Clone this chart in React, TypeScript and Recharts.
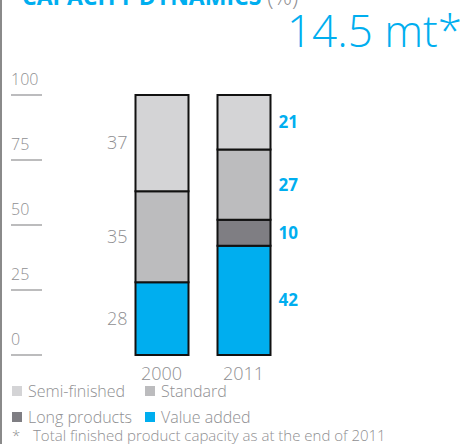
import React from 'react';
import { BarChart, Bar, XAxis, YAxis, LabelList } from 'recharts';

const years = ['2000', '2011'];
const valueAdded = [28, 42];
const longProducts = [0, 10];
const standard = [35, 27];
const semiFinished = [37, 21];
const yTicks = [0, 25, 50, 75, 100];

const legendItems = [
  { name: 'Semi-finished', color: '#d4d4d6' },
  { name: 'Standard', color: '#bcbcbe' },
  { name: 'Long products', color: '#7f7e83' },
  { name: 'Value added', color: '#00aeef' },
];

const data = years.map((y, i) => ({
  year: y,
  valueAdded: valueAdded[i],
  longProducts: longProducts[i],
  standard: standard[i],
  semiFinished: semiFinished[i],
}));

const GRAY = '#8f8f92';
const BLUE = '#00aeef';
const FONT = '"Open Sans", "Noto Sans", sans-serif';

const YTick = (props: any) => {
  const { y, payload } = props;
  return (
    <g>
      <text x={11} y={y - 10} fill={GRAY} fontSize={16} fontFamily={FONT} fontWeight={300} textAnchor="start">
        {payload.value}
      </text>
      <line x1={11} x2={42} y1={y} y2={y} stroke={GRAY} strokeWidth={1.2} />
    </g>
  );
};

const XTick = (props: any) => {
  const { x, y, payload } = props;
  return (
    <text x={x} y={y + 17} fill={GRAY} fontSize={18} fontFamily={FONT} fontWeight={300} textAnchor="middle">
      {payload.value}
    </text>
  );
};

const makeLabel = (values: number[]) => (props: any) => {
  const vb = props.viewBox || {};
  const x = props.x ?? vb.x;
  const y = props.y ?? vb.y;
  const width = props.width ?? vb.width;
  const height = props.height ?? vb.height;
  const { value } = props;
  if (!value) return null;
  const cy = y + height / 2;
  const isFirst = props.index === 0 && values[0] === value;
  if (isFirst) {
    return (
      <text x={x - 8} y={cy} dy="0.35em" fill={GRAY} fontSize={18} fontFamily={FONT} fontWeight={300} textAnchor="end">
        {value}
      </text>
    );
  }
  return (
    <text x={x + width + 8} y={cy} dy="0.35em" fill={BLUE} fontSize={17} fontFamily={FONT} fontWeight={700} textAnchor="start">
      {value}
    </text>
  );
};

export default function App() {
  return (
    <div style={{ position: 'absolute', left: 0, top: 0, width: 464, height: 444, background: '#fff', overflow: 'hidden' }}>
      <BarChart
        width={464}
        height={444}
        data={data}
        margin={{ top: 95, right: 179.5, bottom: 59, left: 0 }}
        barSize={53}
      >
        <YAxis
          type="number"
          domain={[0, 100]}
          ticks={yTicks}
          width={120.5}
          axisLine={false}
          tickLine={false}
          tick={<YTick />}
          interval={0}
        />
        <XAxis dataKey="year" height={30} axisLine={false} tickLine={false} tick={<XTick />} interval={0} />
        <Bar dataKey="valueAdded" stackId="a" fill="#00aeef" stroke="#111" strokeWidth={2} isAnimationActive={false}>
          <LabelList dataKey="valueAdded" content={makeLabel(valueAdded)} />
        </Bar>
        <Bar dataKey="longProducts" stackId="a" fill="#7f7e83" stroke="#111" strokeWidth={2} isAnimationActive={false}>
          <LabelList dataKey="longProducts" content={makeLabel(longProducts)} />
        </Bar>
        <Bar dataKey="standard" stackId="a" fill="#bcbcbe" stroke="#111" strokeWidth={2} isAnimationActive={false}>
          <LabelList dataKey="standard" content={makeLabel(standard)} />
        </Bar>
        <Bar dataKey="semiFinished" stackId="a" fill="#d4d4d6" stroke="#111" strokeWidth={2} isAnimationActive={false}>
          <LabelList dataKey="semiFinished" content={makeLabel(semiFinished)} />
        </Bar>
      </BarChart>
      <svg width={464} height={444} style={{ position: 'absolute', left: 0, top: 0, pointerEvents: 'none' }}>
        <rect x={0} y={0} width={2} height={444} fill="#8a8a8a" />
        <text x={22} y={5} fontFamily={FONT} fontSize={23} fontWeight={700} fill={BLUE}>
          CAPACITY DYNAMICS <tspan fill={GRAY} fontWeight={300}>(%)</tspan>
        </text>
        <text x={462} y={47} textAnchor="end" fontFamily={FONT} fontSize={44} fontWeight={300} fill={BLUE}>
          14.5 mt*
        </text>
        {legendItems.map((it, i) => {
          const col = i % 2;
          const row = Math.floor(i / 2);
          const sx = col === 0 ? 12 : 145;
          const sy = row === 0 ? 386 : 412;
          return (
            <g key={it.name}>
              <rect x={sx} y={sy} width={10} height={10} fill={it.color} />
              <text x={sx + 16} y={sy + 11} fontFamily={FONT} fontSize={16} fontWeight={300} fill={GRAY}>
                {it.name}
              </text>
            </g>
          );
        })}
        <text x={12} y={441} fontFamily={FONT} fontSize={15} fontWeight={300} fill={GRAY}>*</text>
        <text x={33} y={441} fontFamily={FONT} fontSize={15} fontWeight={300} fill={GRAY}>
          Total finished product capacity as at the end of 2011
        </text>
      </svg>
    </div>
  );
}
